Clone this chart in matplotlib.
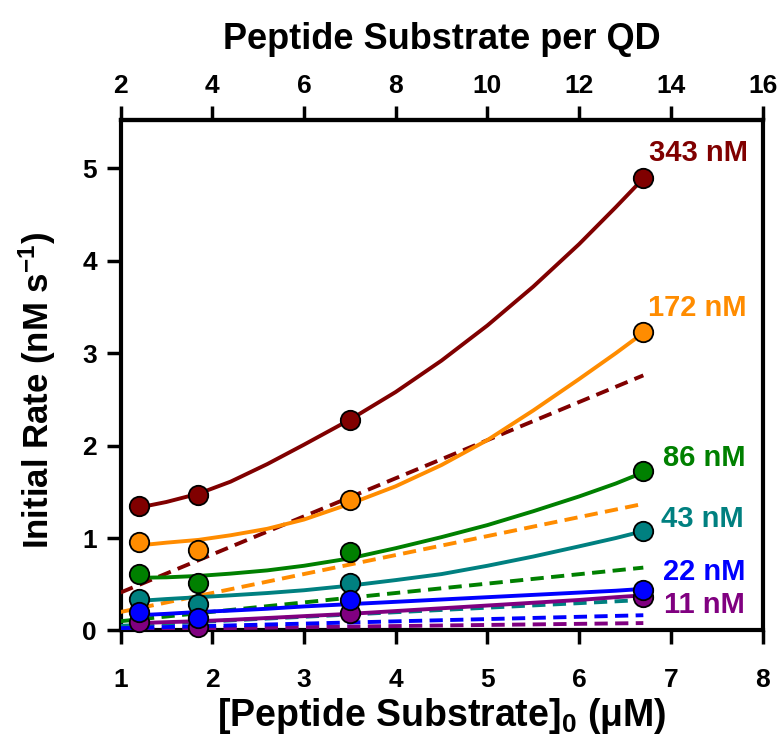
import numpy as np
import matplotlib
matplotlib.use("Agg")
import matplotlib.pyplot as plt

plt.rcParams['font.family'] = ['Liberation Sans', 'DejaVu Sans']
plt.rcParams['font.weight'] = 'bold'
plt.rcParams['mathtext.default'] = 'regular'

# measured points
conc_labels = ["343 nM", "172 nM", "86 nM", "43 nM", "22 nM", "11 nM"]
colors = ["#800000", "#ff8c00", "#008000", "#008080", "#0000ff", "#800080"]
substrate = [1.2, 1.85, 3.5, 6.7]

rate_343 = [1.35, 1.47, 2.28, 4.89]
rate_172 = [0.96, 0.87, 1.41, 3.23]
rate_86 = [0.61, 0.51, 0.85, 1.72]
rate_43 = [0.34, 0.29, 0.51, 1.08]
rate_22 = [0.20, 0.14, 0.33, 0.44]
rate_11 = [0.09, 0.04, 0.19, 0.36]

# fitted curves (solid)
fit_x = [1.2, 1.5, 1.85, 2.2, 2.6, 3.0, 3.5, 4.0, 4.5, 5.0, 5.5, 6.0, 6.4, 6.7]
fit_343 = [1.33, 1.39, 1.48, 1.61, 1.80, 2.01, 2.28, 2.58, 2.92, 3.30, 3.72, 4.18, 4.58, 4.89]
fit_172 = [0.92, 0.95, 0.98, 1.03, 1.10, 1.20, 1.37, 1.56, 1.79, 2.06, 2.38, 2.72, 3.00, 3.22]
fit_86 = [0.57, 0.575, 0.59, 0.615, 0.65, 0.70, 0.78, 0.89, 1.01, 1.14, 1.29, 1.45, 1.59, 1.71]
fit_43 = [0.32, 0.34, 0.36, 0.38, 0.405, 0.435, 0.485, 0.545, 0.61, 0.70, 0.80, 0.91, 1.00, 1.075]
fit_22 = [0.165, 0.18, 0.20, 0.215, 0.235, 0.26, 0.285, 0.31, 0.335, 0.36, 0.385, 0.41, 0.43, 0.45]
fit_11 = [0.08, 0.09, 0.10, 0.115, 0.135, 0.155, 0.18, 0.21, 0.24, 0.27, 0.30, 0.33, 0.36, 0.38]

# dashed lines (start at x=1, end at x=6.7)
dash_x = [1.0, 6.7]
dash_343 = [0.41, 2.76]
dash_172 = [0.20, 1.37]
dash_86 = [0.10, 0.68]
dash_43 = [0.05, 0.33]
dash_22 = [0.025, 0.165]
dash_11 = [0.012, 0.08]

label_x = [6.76, 6.75, 6.91, 6.89, 6.91, 6.92]
label_y = [5.17, 3.49, 1.87, 1.21, 0.63, 0.28]

rates = [rate_343, rate_172, rate_86, rate_43, rate_22, rate_11]
fits = [fit_343, fit_172, fit_86, fit_43, fit_22, fit_11]
dashes = [dash_343, dash_172, dash_86, dash_43, dash_22, dash_11]
zorders = [3, 4, 5, 6, 8, 7]

fig = plt.figure(figsize=(7.83, 7.47), dpi=100)
ax = fig.add_axes([0.1539, 0.156, 0.820, 0.683])

for i in range(6):
    z = zorders[i]
    ax.plot(dash_x, dashes[i], color=colors[i], lw=2.8, dashes=(3.4, 1.9), zorder=z)
    ax.plot(fit_x, fits[i], color=colors[i], lw=2.8, zorder=z + 0.1,
            solid_capstyle='butt', solid_joinstyle='round')
    ax.plot(substrate, rates[i], 'o', color=colors[i], ms=14, mec='black',
            mew=1.3, zorder=z + 10, clip_on=False)
    ax.text(label_x[i], label_y[i], conc_labels[i], color=colors[i],
            fontsize=21, fontweight='bold', ha='left', va='center')

ax.set_xlim(1, 8)
ax.set_ylim(0, 5.52)
ax.set_xticks(range(1, 9))
ax.set_yticks(range(0, 6))

for s in ax.spines.values():
    s.set_linewidth(3)
ax.tick_params(axis='both', direction='out', length=10, width=2.5,
               labelsize=19, pad=7)
ax.tick_params(axis='x', pad=17)
ax.tick_params(axis='y', right=False)

ax.set_xlabel("[Peptide Substrate]$_0$ (μM)", fontsize=27, fontweight='bold',
              labelpad=3)
ax.set_ylabel("Initial Rate (nM s$^{-1}$)", fontsize=25, fontweight='bold')
ax.yaxis.set_label_coords(-0.098, 0.47)

top = ax.secondary_xaxis('top', functions=(lambda x: 2 * x, lambda x: x / 2))
top.set_xticks(range(2, 17, 2))
top.tick_params(direction='out', length=10, width=2.5, labelsize=19, pad=6)
top.spines['top'].set_linewidth(3)
top.set_xlabel("Peptide Substrate per QD", fontsize=26, fontweight='bold',
               labelpad=18)
for lab in ax.get_xticklabels() + ax.get_yticklabels() + top.get_xticklabels():
    lab.set_fontweight('bold')

fig.savefig("out.png", dpi=100)
